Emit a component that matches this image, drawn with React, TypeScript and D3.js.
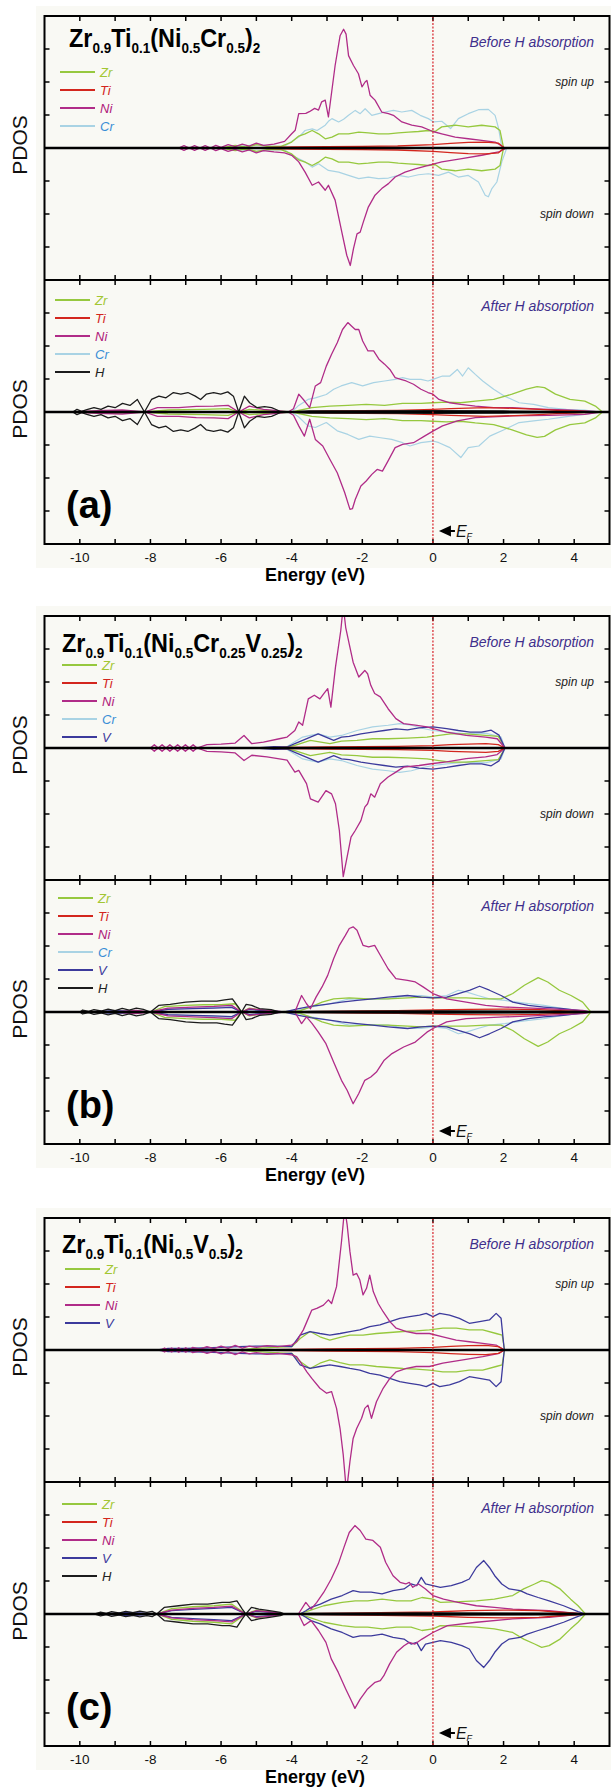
import React from "react";
import * as d3 from "d3";

type Pt = [number, number];

// energy axis
const xTicks = [-10, -9, -8, -7, -6, -5, -4, -3, -2, -1, 0, 1, 2, 3, 4];
const xLabels = [-10, -8, -6, -4, -2, 0, 2, 4];
const yTicks = [-3, -2, -1, 0, 1, 2, 3];

// ---------- (a) Zr0.9Ti0.1(Ni0.5Cr0.5)2, before H ----------
const aBeforeZr: Pt[] = [[-6.0,0],[-5.6,0.08],[-5.3,0.03],[-5.0,0.1],[-4.7,0.05],[-4.3,0.05],[-4.0,0.18],[-3.8,0.36],[-3.62,0.43],[-3.42,0.53],[-3.24,0.43],[-3.05,0.28],[-2.86,0.33],[-2.67,0.43],[-2.39,0.43],[-2.1,0.48],[-1.83,0.46],[-1.54,0.43],[-1.26,0.43],[-0.98,0.46],[-0.69,0.48],[-0.41,0.5],[-0.13,0.53],[0.06,0.5],[0.25,0.64],[0.63,0.69],[1.0,0.64],[1.38,0.69],[1.76,0.64],[1.9,0.53],[2.0,0]];
const aBeforeTi: Pt[] = [[-5,0],[-4,0.03],[-3,0.04],[-2,0.05],[-1,0.06],[0,0.1],[0.5,0.14],[1.0,0.17],[1.5,0.18],[1.85,0.15],[2.02,0]];
const aBeforeNiUp: Pt[] = [[-7.2,0],[-7.05,0.07],[-6.9,0],[-6.75,0.07],[-6.6,0],[-6.45,0.07],[-6.3,0],[-6.15,0.08],[-6.0,0.02],[-5.8,0.1],[-5.6,0.04],[-5.4,0.12],[-5.2,0.06],[-5.0,0.15],[-4.8,0.08],[-4.5,0.12],[-4.2,0.2],[-4.0,0.43],[-3.9,0.54],[-3.8,1.04],[-3.6,1.05],[-3.5,1.1],[-3.35,1.2],[-3.24,1.15],[-3.15,1.4],[-3.05,1.45],[-2.96,0.94],[-2.77,2.5],[-2.63,3.4],[-2.53,3.6],[-2.46,3.45],[-2.39,2.8],[-2.25,2.5],[-2.11,2.25],[-2.01,1.85],[-1.92,2.0],[-1.87,2.05],[-1.78,1.6],[-1.64,1.45],[-1.45,1.09],[-1.26,1.04],[-1.12,0.99],[-0.88,0.79],[-0.6,0.69],[-0.32,0.64],[0,0.5],[0.25,0.43],[0.63,0.33],[1.0,0.28],[1.38,0.23],[1.76,0.18],[1.95,0.06],[2.04,0]];
const aBeforeNiDown: Pt[] = [[-7.2,0],[-7.05,0.07],[-6.9,0],[-6.75,0.07],[-6.6,0],[-6.45,0.07],[-6.3,0],[-6.15,0.08],[-6.0,0.02],[-5.8,0.1],[-5.6,0.04],[-5.4,0.12],[-5.2,0.06],[-5.0,0.15],[-4.8,0.08],[-4.5,0.12],[-4.2,0.15],[-4.0,0.22],[-3.8,0.42],[-3.62,0.73],[-3.42,1.13],[-3.24,1.03],[-3.05,1.28],[-2.96,1.13],[-2.77,1.58],[-2.58,2.55],[-2.44,3.25],[-2.34,3.56],[-2.25,3.05],[-2.15,2.6],[-2.06,2.55],[-1.97,2.24],[-1.83,1.79],[-1.64,1.43],[-1.45,1.23],[-1.26,1.08],[-1.07,0.88],[-0.79,0.73],[-0.5,0.63],[-0.13,0.53],[0.25,0.42],[0.82,0.32],[1.38,0.22],[1.86,0.12],[2.09,0]];
const aBeforeCrUp: Pt[] = [[-5.8,0],[-5.4,0.06],[-5.0,0.1],[-4.6,0.06],[-4.2,0.05],[-4.0,0.2],[-3.8,0.33],[-3.62,0.53],[-3.42,0.58],[-3.28,0.53],[-3.05,0.69],[-2.96,0.81],[-2.86,0.89],[-2.67,0.79],[-2.53,0.87],[-2.39,0.99],[-2.2,1.14],[-2.06,1.04],[-1.92,1.19],[-1.73,0.99],[-1.54,1.04],[-1.35,1.09],[-1.12,1.14],[-0.88,1.09],[-0.6,1.14],[-0.36,0.99],[-0.13,0.89],[0.02,0.79],[0.25,0.81],[0.5,0.59],[0.72,0.89],[1.0,1.04],[1.29,1.16],[1.57,1.17],[1.76,0.99],[1.86,0.59],[1.95,0.03],[2.0,0]];
const aBeforeCrDown: Pt[] = [[-5.8,0],[-5.4,0.06],[-5.0,0.1],[-4.6,0.06],[-4.2,0.05],[-4.0,0.22],[-3.62,0.42],[-3.42,0.58],[-3.24,0.48],[-2.96,0.68],[-2.67,0.73],[-2.39,0.83],[-2.1,0.93],[-1.83,0.88],[-1.54,0.93],[-1.26,0.91],[-0.98,0.83],[-0.69,0.88],[-0.41,0.81],[-0.13,0.78],[0.16,0.83],[0.44,0.73],[0.72,0.88],[1.0,0.83],[1.29,1.03],[1.48,1.43],[1.57,1.48],[1.67,1.23],[1.81,1.03],[1.95,0.42],[2.09,0]];

// ---------- (a) after H ----------
const aAfterZr: Pt[] = [[-10.2,0],[-9,0.03],[-8.17,0],[-7.5,0.06],[-6.5,0.08],[-5.8,0.1],[-5.5,0],[-5.2,0.08],[-4.5,0.03],[-4.0,0],[-3.43,0.13],[-2.92,0.18],[-2.41,0.2],[-1.89,0.23],[-1.37,0.2],[-0.86,0.26],[-0.34,0.26],[0,0.28],[0.38,0.3],[0.79,0.28],[1.2,0.33],[1.72,0.38],[2.24,0.54],[2.65,0.69],[2.95,0.77],[3.16,0.74],[3.47,0.54],[3.88,0.38],[4.3,0.33],[4.6,0.18],[4.8,0]];
const aAfterTi: Pt[] = [[-4,0],[-3,0.03],[-2,0.04],[-1,0.05],[0,0.08],[0.5,0.1],[1,0.12],[1.5,0.13],[2,0.12],[2.5,0.1],[3,0.08],[3.5,0.05],[4,0.03],[4.6,0]];
const aAfterNiUp: Pt[] = [[-10.2,0],[-9.5,0.04],[-8.8,0.06],[-8.17,0],[-7.8,0.13],[-7.2,0.13],[-6.7,0.17],[-6.2,0.18],[-5.8,0.2],[-5.5,0],[-5.2,0.18],[-4.8,0.08],[-4.4,0.04],[-4.1,0],[-3.95,0.1],[-3.8,0.54],[-3.64,0.34],[-3.49,0.13],[-3.33,0.79],[-3.18,0.89],[-3.02,1.39],[-2.87,1.75],[-2.71,2.1],[-2.56,2.5],[-2.41,2.71],[-2.3,2.6],[-2.2,2.5],[-2.1,2.5],[-1.99,2.15],[-1.84,1.85],[-1.68,1.85],[-1.53,1.6],[-1.37,1.45],[-1.22,1.29],[-1.07,1.04],[-0.91,0.99],[-0.76,0.94],[-0.55,0.84],[-0.34,0.69],[-0.14,0.59],[0,0.54],[0.17,0.38],[0.48,0.28],[0.79,0.23],[1.2,0.18],[1.72,0.13],[2.24,0.13],[2.75,0.1],[3.27,0.08],[3.78,0.06],[4.3,0.03],[4.75,0]];
const aAfterNiDown: Pt[] = [[-10.2,0],[-9.5,0.04],[-8.8,0.06],[-8.17,0],[-7.8,0.13],[-7.2,0.13],[-6.7,0.17],[-6.2,0.18],[-5.8,0.2],[-5.5,0],[-5.2,0.18],[-4.8,0.08],[-4.4,0.04],[-4.1,0],[-3.95,0.1],[-3.8,0.42],[-3.64,0.73],[-3.49,0.22],[-3.33,0.83],[-3.12,1.03],[-2.92,1.43],[-2.71,1.84],[-2.5,2.44],[-2.35,2.95],[-2.28,2.93],[-2.2,2.65],[-2.04,2.24],[-1.89,2.09],[-1.73,1.89],[-1.58,1.74],[-1.43,1.79],[-1.27,1.48],[-1.07,1.08],[-0.86,0.98],[-0.55,0.93],[-0.24,0.73],[0,0.58],[0.27,0.42],[0.69,0.27],[1.2,0.17],[2.24,0.12],[3.27,0.1],[4.3,0.07],[4.75,0]];
const aAfterCrUp: Pt[] = [[-4.0,0],[-3.8,0.2],[-3.54,0.38],[-3.33,0.43],[-3.02,0.53],[-2.81,0.69],[-2.6,0.79],[-2.3,0.89],[-1.99,0.79],[-1.68,0.89],[-1.37,0.94],[-1.07,0.99],[-0.86,1.04],[-0.65,0.99],[-0.34,0.99],[-0.14,0.94],[0,0.99],[0.27,1.09],[0.48,1.09],[0.69,1.29],[0.84,1.09],[1.0,1.34],[1.2,1.14],[1.41,0.94],[1.72,0.69],[2.03,0.48],[2.44,0.28],[2.85,0.23],[3.27,0.13],[3.78,0.08],[4.3,0.06],[4.7,0]];
const aAfterCrDown: Pt[] = [[-4.0,0],[-3.8,0.15],[-3.54,0.42],[-3.33,0.47],[-3.02,0.32],[-2.71,0.57],[-2.41,0.68],[-2.1,0.83],[-1.79,0.73],[-1.48,0.78],[-1.17,0.83],[-0.86,0.93],[-0.65,1.03],[-0.34,0.93],[0,0.88],[0.17,0.93],[0.48,1.08],[0.79,1.38],[1.0,1.08],[1.3,1.03],[1.61,0.73],[2.03,0.53],[2.44,0.32],[2.85,0.27],[3.27,0.22],[3.78,0.14],[4.3,0.07],[4.7,0]];
const aAfterH: Pt[] = [[-10.2,0],[-10.08,0.08],[-9.95,0.02],[-9.8,0.07],[-9.6,0.13],[-9.4,0.08],[-9.2,0.18],[-9.0,0.13],[-8.79,0.26],[-8.58,0.2],[-8.37,0.38],[-8.17,0],[-7.97,0.38],[-7.76,0.48],[-7.56,0.43],[-7.35,0.59],[-7.14,0.54],[-6.94,0.59],[-6.73,0.48],[-6.58,0.38],[-6.42,0.54],[-6.21,0.59],[-6.01,0.54],[-5.81,0.61],[-5.65,0.48],[-5.5,0],[-5.34,0.48],[-5.19,0.28],[-4.98,0.13],[-4.77,0.16],[-4.57,0.13],[-4.41,0.06],[-4.3,0],[-4.0,0],[-3.5,0.03],[-2,0.03],[0,0.04],[2,0.03],[4.5,0]];

// ---------- (b) Zr0.9Ti0.1(Ni0.5Cr0.25V0.25)2, before H ----------
const bBeforeZr: Pt[] = [[-4.3,0],[-3.91,0.08],[-3.47,0.23],[-2.92,0.13],[-2.59,0.21],[-2.15,0.23],[-1.71,0.28],[-1.27,0.28],[-0.72,0.3],[-0.17,0.33],[0.17,0.38],[0.5,0.43],[0.94,0.43],[1.49,0.38],[1.85,0.35],[2.04,0]];
const bBeforeTi: Pt[] = [[-5,0],[-4,0.02],[-3,0.03],[-2,0.04],[-1,0.05],[0,0.07],[0.5,0.1],[1.0,0.12],[1.5,0.13],[1.85,0.1],[2.04,0]];
const bBeforeNiUp: Pt[] = [[-8.0,0],[-7.89,0.1],[-7.78,0],[-7.67,0.1],[-7.56,0],[-7.45,0.1],[-7.34,0],[-7.23,0.1],[-7.12,0],[-7.01,0.1],[-6.9,0],[-6.79,0.1],[-6.68,0],[-6.4,0.1],[-6.0,0.12],[-5.6,0.15],[-5.35,0.38],[-5.13,0.13],[-4.8,0.18],[-4.35,0.28],[-4.13,0.33],[-3.91,0.53],[-3.8,0.79],[-3.69,0.69],[-3.53,1.49],[-3.36,1.6],[-3.2,1.49],[-3.09,1.65],[-2.98,1.8],[-2.89,1.24],[-2.76,2.45],[-2.61,3.56],[-2.54,4.3],[-2.47,3.65],[-2.37,3.15],[-2.26,2.6],[-2.1,2.15],[-1.93,2.35],[-1.85,2.25],[-1.76,1.9],[-1.65,1.65],[-1.49,1.55],[-1.27,1.19],[-1.05,0.89],[-0.83,0.74],[-0.5,0.69],[-0.17,0.64],[0,0.59],[0.39,0.48],[0.94,0.38],[1.49,0.33],[1.82,0.28],[2.04,0]];
const bBeforeNiDown: Pt[] = [[-8.0,0],[-7.89,0.1],[-7.78,0],[-7.67,0.1],[-7.56,0],[-7.45,0.1],[-7.34,0],[-7.23,0.1],[-7.12,0],[-7.01,0.1],[-6.9,0],[-6.79,0.1],[-6.68,0],[-6.4,0.1],[-6.0,0.12],[-5.6,0.15],[-5.35,0.38],[-5.13,0.22],[-4.7,0.27],[-4.13,0.37],[-3.91,0.73],[-3.8,0.68],[-3.58,1.08],[-3.47,1.54],[-3.25,1.64],[-3.03,1.29],[-2.87,1.39],[-2.76,1.69],[-2.65,2.5],[-2.54,3.9],[-2.43,3.3],[-2.32,2.7],[-2.2,2.5],[-2.04,2.2],[-1.93,1.79],[-1.85,1.69],[-1.76,1.39],[-1.65,1.49],[-1.49,1.08],[-1.27,0.88],[-1.05,0.73],[-0.83,0.58],[-0.39,0.53],[0,0.47],[0.39,0.42],[0.94,0.32],[1.49,0.27],[1.82,0.2],[2.04,0]];
const bBeforeCr: Pt[] = [[-4.2,0],[-3.69,0.33],[-3.47,0.38],[-3.25,0.43],[-2.92,0.33],[-2.59,0.38],[-2.15,0.53],[-1.71,0.64],[-1.27,0.69],[-0.94,0.74],[-0.61,0.69],[-0.28,0.59],[0,0.53],[0.39,0.48],[0.94,0.43],[1.49,0.45],[1.93,0.33],[2.04,0]];
const bBeforeV: Pt[] = [[-5.0,0],[-4.5,0.04],[-4.13,0.03],[-3.91,0.13],[-3.69,0.23],[-3.47,0.33],[-3.25,0.43],[-3.03,0.33],[-2.81,0.23],[-2.59,0.33],[-2.37,0.35],[-2.04,0.43],[-1.71,0.48],[-1.38,0.53],[-1.05,0.58],[-0.72,0.55],[-0.39,0.61],[0,0.64],[0.39,0.59],[0.72,0.53],[1.05,0.48],[1.38,0.48],[1.65,0.54],[1.87,0.39],[2.04,0]];

// ---------- (b) after H ----------
const bAfterZr: Pt[] = [[-8.0,0],[-7.6,0.16],[-7.0,0.2],[-6.5,0.22],[-6.0,0.22],[-5.6,0.25],[-5.42,0],[-5.2,0.12],[-4.8,0.05],[-4.4,0],[-3.8,0.03],[-3.47,0.15],[-3.14,0.3],[-2.81,0.4],[-2.37,0.43],[-1.82,0.4],[-1.27,0.4],[-0.72,0.43],[-0.33,0.45],[0,0.43],[0.5,0.43],[0.94,0.43],[1.49,0.4],[1.93,0.4],[2.26,0.56],[2.59,0.81],[2.98,1.04],[3.25,0.91],[3.58,0.66],[3.91,0.5],[4.24,0.3],[4.47,0]];
const bAfterTi: Pt[] = [[-4,0],[-3,0.02],[-2,0.03],[-1,0.04],[0,0.06],[1,0.08],[2,0.09],[3,0.07],[3.6,0.04],[4.4,0]];
const bAfterNiUp: Pt[] = [[-9.0,0],[-8.4,0.05],[-8.0,0],[-7.5,0.12],[-6.8,0.15],[-6.2,0.17],[-5.7,0.2],[-5.42,0],[-5.2,0.1],[-4.6,0.04],[-4.2,0],[-3.91,0],[-3.72,0.5],[-3.58,0.25],[-3.47,0.1],[-3.31,0.45],[-3.14,0.76],[-2.98,1.11],[-2.81,1.62],[-2.65,2.02],[-2.48,2.32],[-2.37,2.53],[-2.26,2.58],[-2.15,2.48],[-1.98,2.02],[-1.82,1.97],[-1.65,2.02],[-1.49,1.72],[-1.27,1.31],[-1.05,1.01],[-0.72,0.96],[-0.5,0.91],[-0.28,0.76],[0,0.56],[0.39,0.4],[0.94,0.3],[1.49,0.2],[2.04,0.15],[3.14,0.1],[4.24,0.05],[4.45,0]];
const bAfterNiDown: Pt[] = [[-9.0,0],[-8.4,0.05],[-8.0,0],[-7.5,0.12],[-6.8,0.15],[-6.2,0.17],[-5.7,0.2],[-5.42,0],[-5.2,0.1],[-4.6,0.04],[-4.2,0],[-3.91,0],[-3.72,0.35],[-3.58,0.15],[-3.42,0.35],[-3.25,0.6],[-3.03,0.96],[-2.81,1.52],[-2.59,2.07],[-2.43,2.37],[-2.26,2.78],[-2.1,2.47],[-1.93,2.07],[-1.76,1.97],[-1.6,1.82],[-1.38,1.46],[-1.16,1.26],[-0.83,1.06],[-0.5,0.91],[-0.17,0.61],[0,0.5],[0.39,0.3],[0.94,0.2],[2.04,0.15],[3.14,0.1],[4.24,0.05],[4.45,0]];
const bAfterCr: Pt[] = [[-8.0,0],[-7.5,0.1],[-6.8,0.12],[-6.2,0.14],[-5.7,0.16],[-5.42,0],[-5.2,0.08],[-4.6,0.03],[-4.2,0],[-3.8,0.05],[-3.47,0.15],[-2.92,0.25],[-2.37,0.4],[-1.82,0.38],[-1.27,0.4],[-0.72,0.5],[-0.33,0.5],[0,0.45],[0.39,0.5],[0.72,0.66],[0.94,0.61],[1.27,0.5],[1.6,0.4],[2.04,0.35],[2.59,0.27],[3.14,0.2],[3.69,0.1],[4.24,0.03],[4.45,0]];
const bAfterV: Pt[] = [[-9.8,0],[-9.0,0.04],[-8.0,0],[-7.5,0.08],[-6.8,0.1],[-6.2,0.12],[-5.7,0.14],[-5.42,0],[-5.2,0.08],[-4.6,0.03],[-4.2,0],[-3.8,0.1],[-3.47,0.17],[-3.03,0.23],[-2.59,0.3],[-2.15,0.35],[-1.71,0.4],[-1.27,0.45],[-0.72,0.5],[-0.33,0.45],[0,0.43],[0.39,0.45],[0.72,0.56],[1.05,0.66],[1.32,0.78],[1.6,0.66],[1.93,0.5],[2.26,0.3],[2.7,0.2],[3.14,0.15],[3.69,0.1],[4.24,0.03],[4.45,0]];
const bAfterH: Pt[] = [[-10.0,0],[-9.92,0.06],[-9.75,0.02],[-9.6,0.07],[-9.4,0.03],[-9.2,0.09],[-9.0,0.04],[-8.8,0.11],[-8.6,0.06],[-8.4,0.12],[-8.2,0.08],[-8.0,0],[-7.77,0.2],[-7.44,0.23],[-7.0,0.3],[-6.56,0.33],[-6.12,0.33],[-5.9,0.37],[-5.68,0.4],[-5.51,0.15],[-5.42,0],[-5.29,0.23],[-5.13,0.2],[-4.91,0.1],[-4.58,0.07],[-4.35,0],[-4.0,0],[-3.5,0.02],[0,0.03],[4.0,0.02],[4.4,0]];

// ---------- (c) Zr0.9Ti0.1(Ni0.5V0.5)2, before H ----------
const cBeforeZr: Pt[] = [[-5.5,0],[-5.0,0.05],[-4.5,0.08],[-4.0,0.1],[-3.76,0.35],[-3.48,0.56],[-3.2,0.4],[-2.92,0.3],[-2.63,0.38],[-2.35,0.45],[-1.98,0.45],[-1.6,0.5],[-1.22,0.53],[-0.85,0.56],[-0.47,0.58],[-0.1,0.61],[0.28,0.66],[0.66,0.66],[1.03,0.61],[1.41,0.61],[1.79,0.5],[1.96,0.45],[2.03,0]];
const cBeforeTi: Pt[] = [[-5,0],[-4,0.02],[-3,0.03],[-2,0.04],[-1,0.05],[0,0.08],[0.5,0.11],[1.0,0.13],[1.5,0.14],[1.85,0.1],[2.03,0]];
const cBeforeNiUp: Pt[] = [[-7.7,0],[-7.6,0.06],[-7.5,0],[-7.4,0.06],[-7.3,0],[-7.2,0.07],[-7.1,0],[-7.0,0.07],[-6.9,0],[-6.8,0.08],[-6.6,0.03],[-6.4,0.1],[-6.2,0.04],[-6.0,0.12],[-5.8,0.05],[-5.6,0.14],[-5.4,0.06],[-5.2,0.12],[-5.0,0.08],[-4.7,0.13],[-4.4,0.1],[-4.0,0.15],[-3.86,0.25],[-3.76,0.45],[-3.67,0.61],[-3.57,0.86],[-3.43,1.21],[-3.29,1.26],[-3.1,1.36],[-2.96,1.52],[-2.87,1.41],[-2.73,1.92],[-2.59,3.28],[-2.5,4.3],[-2.43,3.8],[-2.35,2.98],[-2.26,2.27],[-2.16,2.32],[-2.07,2.12],[-1.98,1.67],[-1.88,1.87],[-1.79,2.27],[-1.69,1.77],[-1.55,1.41],[-1.41,1.16],[-1.22,0.86],[-1.04,0.66],[-0.75,0.56],[-0.47,0.5],[-0.1,0.5],[0.28,0.4],[0.66,0.3],[1.03,0.25],[1.41,0.2],[1.79,0.15],[2.02,0]];
const cBeforeNiDown: Pt[] = [[-7.7,0],[-7.6,0.06],[-7.5,0],[-7.4,0.06],[-7.3,0],[-7.2,0.07],[-7.1,0],[-7.0,0.07],[-6.9,0],[-6.8,0.08],[-6.6,0.03],[-6.4,0.1],[-6.2,0.04],[-6.0,0.12],[-5.8,0.05],[-5.6,0.14],[-5.4,0.06],[-5.2,0.12],[-5.0,0.08],[-4.7,0.13],[-4.4,0.1],[-4.0,0.15],[-3.86,0.2],[-3.76,0.35],[-3.57,0.66],[-3.43,0.86],[-3.2,1.16],[-3.01,1.31],[-2.87,1.26],[-2.73,1.77],[-2.63,2.38],[-2.54,3.18],[-2.45,4.3],[-2.35,3.38],[-2.26,2.68],[-2.16,2.38],[-2.02,2.07],[-1.93,1.77],[-1.84,1.67],[-1.74,2.07],[-1.6,1.57],[-1.41,1.16],[-1.22,0.86],[-1.04,0.66],[-0.75,0.56],[-0.47,0.5],[-0.1,0.5],[0.28,0.4],[0.85,0.3],[1.41,0.2],[1.88,0.1],[2.02,0]];
const cBeforeV: Pt[] = [[-7.8,0],[-7.5,0.05],[-7.0,0.05],[-6.5,0.06],[-6.0,0.08],[-5.5,0.1],[-5.0,0.12],[-4.5,0.12],[-4.0,0.1],[-3.76,0.45],[-3.48,0.56],[-3.2,0.5],[-2.92,0.45],[-2.63,0.5],[-2.35,0.56],[-2.07,0.61],[-1.79,0.71],[-1.5,0.76],[-1.22,0.86],[-0.94,0.96],[-0.66,1.01],[-0.38,1.06],[-0.19,1.11],[0,1.01],[0.19,1.11],[0.47,1.06],[0.75,0.96],[1.03,0.81],[1.32,0.86],[1.6,0.91],[1.79,1.11],[1.93,0.96],[2.02,0]];

// ---------- (c) after H ----------
const cAfterZr: Pt[] = [[-7.82,0],[-7.4,0.16],[-6.8,0.22],[-6.2,0.25],[-5.7,0.3],[-5.3,0],[-5.0,0.12],[-4.5,0.05],[-4.2,0],[-3.8,0],[-3.5,0.1],[-3.09,0.25],[-2.57,0.35],[-2.2,0.4],[-1.85,0.4],[-1.44,0.45],[-1.03,0.4],[-0.62,0.4],[-0.31,0.5],[0,0.45],[0.21,0.35],[0.62,0.37],[1.23,0.4],[1.74,0.45],[2.26,0.56],[2.57,0.76],[2.88,0.91],[3.08,1.01],[3.29,0.96],[3.6,0.76],[3.9,0.45],[4.11,0.25],[4.32,0]];
const cAfterTi: Pt[] = [[-4,0],[-2,0.03],[0,0.06],[1,0.1],[2,0.12],[3,0.1],[3.5,0.06],[4.3,0]];
const cAfterNiUp: Pt[] = [[-8.5,0],[-7.82,0],[-7.4,0.12],[-6.8,0.17],[-6.2,0.2],[-5.7,0.24],[-5.3,0],[-5.0,0.1],[-4.5,0.05],[-4.2,0],[-3.81,0],[-3.6,0.35],[-3.45,0.15],[-3.29,0.35],[-3.09,0.66],[-2.88,1.06],[-2.68,1.52],[-2.52,2.02],[-2.37,2.47],[-2.21,2.68],[-2.06,2.53],[-1.9,2.27],[-1.7,2.23],[-1.49,2.02],[-1.34,1.57],[-1.13,1.16],[-0.93,0.96],[-0.77,0.91],[-0.67,0.96],[-0.57,0.81],[-0.41,0.91],[-0.21,0.76],[0,0.56],[0.3,0.45],[0.71,0.35],[1.23,0.25],[1.74,0.2],[2.26,0.15],[3.29,0.1],[4.21,0]];
const cAfterNiDown: Pt[] = [[-8.5,0],[-7.82,0],[-7.4,0.12],[-6.8,0.17],[-6.2,0.2],[-5.7,0.24],[-5.3,0],[-5.0,0.1],[-4.5,0.05],[-4.2,0],[-3.81,0],[-3.65,0.35],[-3.45,0.2],[-3.24,0.5],[-3.03,0.86],[-2.88,1.36],[-2.68,1.77],[-2.47,2.27],[-2.31,2.63],[-2.21,2.86],[-2.06,2.58],[-1.85,2.27],[-1.64,2.07],[-1.49,2.02],[-1.39,1.87],[-1.23,1.52],[-1.03,1.16],[-0.82,0.96],[-0.67,0.86],[-0.51,0.91],[-0.31,0.76],[0,0.56],[0.41,0.35],[1.23,0.25],[2.26,0.15],[3.29,0.1],[4.21,0]];
const cAfterV: Pt[] = [[-9.4,0],[-8.6,0.05],[-7.82,0],[-7.4,0.1],[-6.8,0.14],[-6.2,0.17],[-5.7,0.2],[-5.3,0],[-5.0,0.08],[-4.5,0.04],[-4.2,0],[-3.76,0],[-3.6,0.1],[-3.45,0.2],[-3.19,0.3],[-2.88,0.45],[-2.57,0.56],[-2.26,0.71],[-2.06,0.66],[-1.75,0.66],[-1.44,0.61],[-1.13,0.71],[-0.82,0.76],[-0.62,0.91],[-0.46,0.86],[-0.33,1.11],[-0.21,0.91],[0,0.86],[0.21,0.81],[0.52,0.86],[0.82,0.96],[1.03,1.06],[1.23,1.41],[1.44,1.62],[1.6,1.41],[1.75,1.16],[1.95,0.91],[2.16,0.76],[2.47,0.71],[2.67,0.61],[2.98,0.5],[3.29,0.4],[3.7,0.25],[4.11,0.07],[4.32,0]];
const cAfterH: Pt[] = [[-9.6,0],[-9.41,0.06],[-9.25,0.02],[-9.1,0.07],[-8.9,0.03],[-8.7,0.08],[-8.5,0.04],[-8.3,0.09],[-8.1,0.05],[-7.95,0.08],[-7.82,0],[-7.61,0.2],[-7.2,0.25],[-6.79,0.3],[-6.38,0.3],[-5.97,0.35],[-5.76,0.35],[-5.55,0.4],[-5.4,0.15],[-5.3,0],[-5.14,0.2],[-4.93,0.15],[-4.63,0.1],[-4.32,0.05],[-4.2,0],[-3.8,0],[-3.5,0.02],[0,0.03],[4,0.02],[4.4,0]];

// element colours
const lineColor: Record<string, string> = { Zr: "#96c83e", Ti: "#d3261d", Ni: "#b02c88", Cr: "#a9d3e4", V: "#3c3a9c", H: "#1c1c1c" };
const labelColor: Record<string, string> = { Zr: "#a2c632", Ti: "#d3261d", Ni: "#b0207a", Cr: "#3a8ed6", V: "#3c3a9c", H: "#222" };
const legendOrder = ["Zr", "Ti", "Ni", "Cr", "V", "H"];
const drawOrder = ["Cr", "Zr", "V", "Ni", "Ti", "H"];

type Series = { el: string; up: Pt[]; down?: Pt[] };

const panels = [
  {
    label: "(a)", top: 16, titleX: 69, titleDy: 31, legBX: 60, legBDy: 56, legAX: 55, legADy: 20,
    title: [["Zr", 0], ["0.9", 1], ["Ti", 0], ["0.1", 1], ["(Ni", 0], ["0.5", 1], ["Cr", 0], ["0.5", 1], [")", 0], ["2", 1]] as [string, number][],
    before: [
      { el: "Zr", up: aBeforeZr }, { el: "Ti", up: aBeforeTi },
      { el: "Ni", up: aBeforeNiUp, down: aBeforeNiDown }, { el: "Cr", up: aBeforeCrUp, down: aBeforeCrDown },
    ] as Series[],
    after: [
      { el: "Zr", up: aAfterZr }, { el: "Ti", up: aAfterTi },
      { el: "Ni", up: aAfterNiUp, down: aAfterNiDown }, { el: "Cr", up: aAfterCrUp, down: aAfterCrDown },
      { el: "H", up: aAfterH },
    ] as Series[],
  },
  {
    label: "(b)", top: 616, titleX: 62, titleDy: 36, legBX: 62, legBDy: 49, legAX: 58, legADy: 18,
    title: [["Zr", 0], ["0.9", 1], ["Ti", 0], ["0.1", 1], ["(Ni", 0], ["0.5", 1], ["Cr", 0], ["0.25", 1], ["V", 0], ["0.25", 1], [")", 0], ["2", 1]] as [string, number][],
    before: [
      { el: "Zr", up: bBeforeZr }, { el: "Ti", up: bBeforeTi },
      { el: "Ni", up: bBeforeNiUp, down: bBeforeNiDown }, { el: "Cr", up: bBeforeCr }, { el: "V", up: bBeforeV },
    ] as Series[],
    after: [
      { el: "Zr", up: bAfterZr }, { el: "Ti", up: bAfterTi },
      { el: "Ni", up: bAfterNiUp, down: bAfterNiDown }, { el: "Cr", up: bAfterCr }, { el: "V", up: bAfterV },
      { el: "H", up: bAfterH },
    ] as Series[],
  },
  {
    label: "(c)", top: 1218, titleX: 62, titleDy: 35, legBX: 65, legBDy: 51, legAX: 62, legADy: 22,
    title: [["Zr", 0], ["0.9", 1], ["Ti", 0], ["0.1", 1], ["(Ni", 0], ["0.5", 1], ["V", 0], ["0.5", 1], [")", 0], ["2", 1]] as [string, number][],
    before: [
      { el: "Zr", up: cBeforeZr }, { el: "Ti", up: cBeforeTi },
      { el: "Ni", up: cBeforeNiUp, down: cBeforeNiDown }, { el: "V", up: cBeforeV },
    ] as Series[],
    after: [
      { el: "Zr", up: cAfterZr }, { el: "Ti", up: cAfterTi },
      { el: "Ni", up: cAfterNiUp, down: cAfterNiDown }, { el: "V", up: cAfterV },
      { el: "H", up: cAfterH },
    ] as Series[],
  },
];

const W = 611;
const H = 1787;
const left = 44.5;
const right = 609.5;
const subH = 264;
const font = "'Liberation Sans', Arial, sans-serif";

const x = d3.scaleLinear().domain([-11, 5]).range([left, right]);

function SubPlot({ id, y0, series, tag, legX, legDy, isBefore }: any) {
  const y = d3.scaleLinear().domain([-4, 4]).range([y0 + subH, y0]);
  const line = d3.line<Pt>().x((d) => x(d[0])).y((d) => y(d[1]));
  const ordered = drawOrder.map((el) => series.find((s: Series) => s.el === el)).filter(Boolean) as Series[];
  const legend = legendOrder.filter((el) => series.some((s: Series) => s.el === el));
  return (
    <g>
      <defs>
        <clipPath id={id}>
          <rect x={left} y={y0} width={right - left} height={subH} />
        </clipPath>
      </defs>
      <g clipPath={`url(#${id})`}>
        {ordered.map((s) => (
          <g key={s.el} fill="none" stroke={lineColor[s.el]} strokeWidth={s.el === "Cr" ? 1.2 : 1.3} strokeLinejoin="round">
            <path d={line(s.up) || ""} />
            <path d={line((s.down || s.up).map(([e, v]) => [e, -v] as Pt)) || ""} />
          </g>
        ))}
      </g>
      <line x1={left} x2={right} y1={y(0)} y2={y(0)} stroke="#000" strokeWidth={2.4} />
      {/* ticks */}
      {xTicks.map((t) => (
        <g key={t} stroke="#000" strokeWidth={1.5}>
          <line x1={x(t)} x2={x(t)} y1={y0} y2={y0 + 5} />
          <line x1={x(t)} x2={x(t)} y1={y0 + subH} y2={y0 + subH - 5} />
        </g>
      ))}
      {yTicks.map((t) => (
        <g key={t} stroke="#000" strokeWidth={1.5}>
          <line x1={left} x2={left + 5} y1={y(t)} y2={y(t)} />
          <line x1={right} x2={right - 5} y1={y(t)} y2={y(t)} />
        </g>
      ))}
      <text x={594} y={y0 + 31} textAnchor="end" fontFamily={font} fontStyle="italic" fontSize={14} fill="#3f2f8c">
        {tag}
      </text>
      {isBefore && (
        <g fontFamily={font} fontStyle="italic" fontSize={12} fill="#222" textAnchor="end">
          <text x={594} y={y(2) + 4}>spin up</text>
          <text x={594} y={y(-2) + 4}>spin down</text>
        </g>
      )}
      {legend.map((el, i) => {
        const ly = y0 + legDy + i * 18;
        return (
          <g key={el}>
            <line x1={legX} x2={legX + 35} y1={ly} y2={ly} stroke={lineColor[el]} strokeWidth={2} />
            <text x={legX + 40} y={ly + 5} fontFamily={font} fontStyle="italic" fontSize={13} fill={labelColor[el]}>
              {el}
            </text>
          </g>
        );
      })}
      <text
        transform={`translate(27,${y(0) - 3}) rotate(-90)`}
        textAnchor="middle"
        fontFamily={font}
        fontSize={21}
        fill="#111"
      >
        PDOS
      </text>
    </g>
  );
}

function Panel({ p, idx }: any) {
  const top = p.top;
  const bottom = top + 2 * subH;
  let prevSub = 0;
  return (
    <g>
      <rect x={36} y={top - 10} width={W - 36} height={2 * subH + 34} fill="#f9f9f4" />
      <SubPlot id={`clip-${idx}-b`} y0={top} series={p.before} tag="Before H absorption" legX={p.legBX} legDy={p.legBDy} isBefore />
      <SubPlot id={`clip-${idx}-a`} y0={top + subH} series={p.after} tag="After H absorption" legX={p.legAX} legDy={p.legADy} isBefore={false} />
      {/* Fermi level */}
      <line x1={x(0)} x2={x(0)} y1={top} y2={bottom} stroke="#d8232a" strokeWidth={1.2} strokeDasharray="2 1.5" />
      <rect x={left} y={top} width={right - left} height={2 * subH} fill="none" stroke="#000" strokeWidth={2} />
      <line x1={left} x2={right} y1={top + subH} y2={top + subH} stroke="#000" strokeWidth={2} />
      {/* title, slightly condensed like the original */}
      <text transform={`translate(${p.titleX},${top + p.titleDy}) scale(0.9,1)`} fontFamily={font} fontWeight="bold" fontSize={26} fill="#000">
        {p.title.map(([t, sub]: [string, number], i: number) => {
          const dy = sub && !prevSub ? 6 : !sub && prevSub ? -6 : 0;
          prevSub = sub;
          return (
            <tspan key={i} dy={dy} fontSize={sub ? 15 : 26}>
              {t}
            </tspan>
          );
        })}
      </text>
      <text x={66} y={bottom - 26} fontFamily={font} fontWeight="bold" fontSize={38} fill="#000">
        {p.label}
      </text>
      {/* E_F marker */}
      <path d={`M${x(0) + 6},${bottom - 13} l12,-5.5 v11 z`} fill="#000" />
      <line x1={x(0) + 16} x2={x(0) + 22} y1={bottom - 13} y2={bottom - 13} stroke="#000" strokeWidth={2} />
      <text x={x(0) + 23} y={bottom - 7} fontFamily={font} fontStyle="italic" fontSize={16} fill="#111">
        E<tspan fontSize={9} dy={2}>F</tspan>
      </text>
      {/* x labels */}
      {xLabels.map((t) => (
        <text key={t} x={x(t)} y={bottom + 18} textAnchor="middle" fontFamily={font} fontSize={13.5} fill="#111">
          {t}
        </text>
      ))}
      <text x={315} y={bottom + 37} textAnchor="middle" fontFamily={font} fontWeight="bold" fontSize={18} fill="#000">
        Energy (eV)
      </text>
    </g>
  );
}

export default function App() {
  return (
    <svg width={W} height={H} style={{ position: "absolute", left: 0, top: 0, background: "#fff" }}>
      {panels.map((p, i) => (
        <Panel key={p.label} p={p} idx={i} />
      ))}
    </svg>
  );
}
